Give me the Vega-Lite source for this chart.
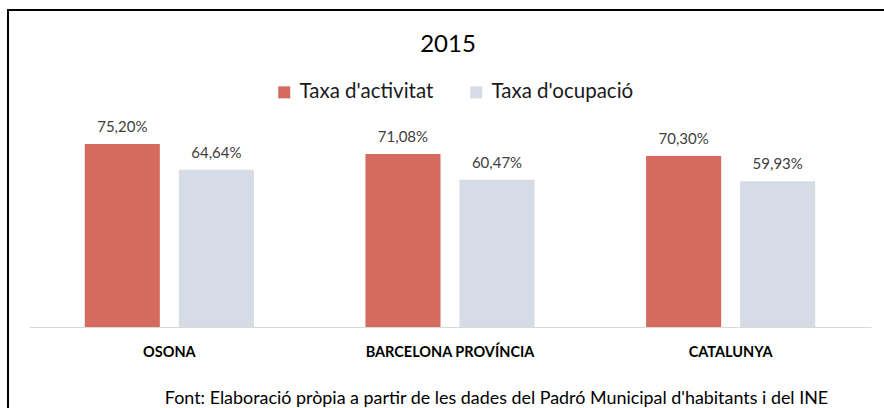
{
  "$schema": "https://vega.github.io/schema/vega-lite/v6.json",
  "width": 886,
  "height": 410,
  "autosize": {"type": "none"},
  "padding": {"left": 8, "top": 10, "right": -10, "bottom": -12},
  "background": "#ffffff",
  "config": {
    "locale": {"number": {"decimal": ",", "thousands": ".", "grouping": [3], "currency": ["", " €"]}},
    "view": {"stroke": "#000000", "strokeWidth": 2},
    "font": "Lato"
  },
  "title": {
    "text": "2015",
    "font": "Lato",
    "fontSize": 24,
    "fontWeight": "normal",
    "color": "#000000",
    "anchor": "middle",
    "baseline": "alphabetic",
    "offset": -66,
    "dx": -3
  },
  "data": {
    "values": [
      {"region": "OSONA", "serie": "Taxa d'activitat", "valor": 0.752},
      {"region": "OSONA", "serie": "Taxa d'ocupació", "valor": 0.6464},
      {"region": "BARCELONA PROVÍNCIA", "serie": "Taxa d'activitat", "valor": 0.7108},
      {"region": "BARCELONA PROVÍNCIA", "serie": "Taxa d'ocupació", "valor": 0.6047},
      {"region": "CATALUNYA", "serie": "Taxa d'activitat", "valor": 0.703},
      {"region": "CATALUNYA", "serie": "Taxa d'ocupació", "valor": 0.5993}
    ]
  },
  "encoding": {
    "x": {
      "field": "region",
      "type": "nominal",
      "sort": null,
      "scale": {"range": [21, 863], "paddingInner": 0, "paddingOuter": 0},
      "axis": {
        "title": "Font: Elaboració pròpia a partir de les dades del Padró Municipal d'habitants i del INE",
        "offset": -93,
        "labelAngle": 0,
        "domain": true,
        "domainColor": "#d9d9d9",
        "domainWidth": 1,
        "ticks": false,
        "tickSize": 0,
        "grid": false,
        "labelPadding": 29,
        "labelBaseline": "alphabetic",
        "labelFont": "Lato",
        "labelFontSize": 14.5,
        "labelFontWeight": "bold",
        "labelColor": "#000000",
        "titleFont": "Lato",
        "titleFontSize": 17.9,
        "titleFontWeight": "normal",
        "titleColor": "#000000",
        "titleX": 488,
        "titleY": 76,
        "titleAlign": "center",
        "titleBaseline": "alphabetic"
      }
    },
    "xOffset": {
      "field": "serie",
      "type": "nominal",
      "sort": null,
      "scale": {"paddingInner": 0.202, "paddingOuter": 0.593}
    },
    "y": {
      "field": "valor",
      "type": "quantitative",
      "scale": {"domain": [0, 0.8], "range": [317, 122.3]},
      "axis": null
    }
  },
  "layer": [
    {
      "mark": {"type": "bar"},
      "encoding": {
        "color": {
          "field": "serie",
          "type": "nominal",
          "sort": null,
          "scale": {"domain": ["Taxa d'activitat", "Taxa d'ocupació"], "range": ["#D56A5E", "#D6DCE5"]},
          "legend": {
            "title": null,
            "orient": "none",
            "legendX": 266,
            "legendY": 72,
            "direction": "horizontal",
            "padding": 0,
            "symbolType": "square",
            "symbolSize": 144,
            "symbolStrokeWidth": 0,
            "symbolOpacity": 1,
            "labelFont": "Lato",
            "labelFontSize": 20.5,
            "labelColor": "#1a1a1a",
            "labelOffset": 5,
            "columnPadding": 32
          }
        }
      }
    },
    {
      "mark": {"type": "text", "baseline": "alphabetic", "dy": -12, "font": "Lato", "fontSize": 15, "color": "#404040"},
      "encoding": {
        "text": {"field": "valor", "type": "quantitative", "format": ".2%"}
      }
    }
  ]
}
